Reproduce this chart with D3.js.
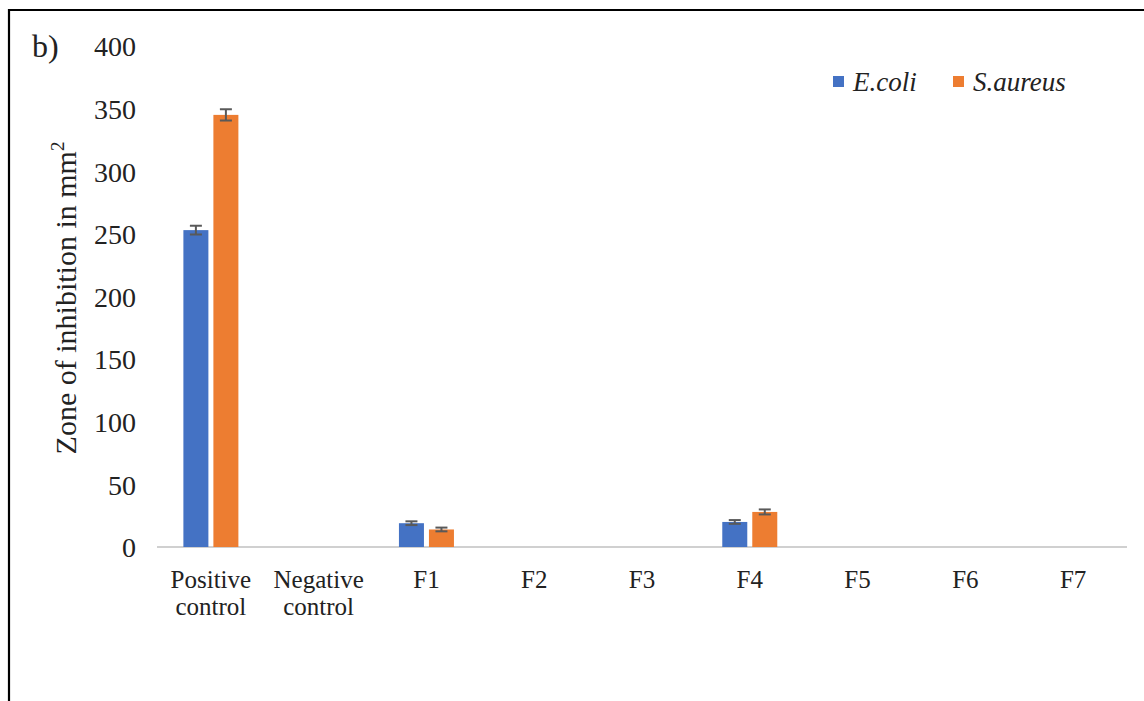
<!DOCTYPE html>
<html><head><meta charset="utf-8">
<script src="https://cdn.jsdelivr.net/npm/d3@7"></script>
<style>html,body{margin:0;padding:0;background:#fff;}svg{display:block;}</style>
</head><body>
<svg id="chart" width="1144" height="701"></svg>
<script>
const categories = [["Positive","control"],["Negative","control"],["F1"],["F2"],["F3"],["F4"],["F5"],["F6"],["F7"]];
const seriesNames = ["E.coli","S.aureus"];
const ecoli = [253, 0, 19, 0, 0, 20, 0, 0, 0];
const saureus = [345, 0, 14, 0, 0, 28, 0, 0, 0];
const ecoliErr = [3.5, 0, 1.5, 0, 0, 1.5, 0, 0, 0];
const saureusErr = [4.5, 0, 1.5, 0, 0, 2, 0, 0, 0];
const yTicks = [0, 50, 100, 150, 200, 250, 300, 350, 400];
const colors = ["#4472C4", "#ED7D31"];

const svg = d3.select("#chart");
const font = "'Liberation Serif','Times New Roman',serif";

// frame
svg.append("line").attr("x1",8).attr("x2",1144).attr("y1",10).attr("y2",10).attr("stroke","#000").attr("stroke-width",2.2);
svg.append("line").attr("x1",9).attr("x2",9).attr("y1",9).attr("y2",701).attr("stroke","#000").attr("stroke-width",2.2);

const x = d3.scaleBand().domain(d3.range(categories.length)).range([157, 1127]).paddingInner(0).paddingOuter(0);
const y = d3.scaleLinear().domain([0, 400]).range([547, 46]);
const bw = 25, gap = 5;

const series = [ecoli, saureus];
const errs = [ecoliErr, saureusErr];

// baseline
svg.append("line").attr("x1",157).attr("x2",1127).attr("y1",y(0)).attr("y2",y(0)).attr("stroke","#d0d0d0").attr("stroke-width",2);

series.forEach((vals, si) => {
  const off = si === 0 ? -(bw + gap/2) : gap/2;
  const g = svg.append("g");
  g.selectAll("rect").data(vals).join("rect")
    .attr("x", (d,i) => x(i) + x.bandwidth()/2 + off)
    .attr("y", d => y(d))
    .attr("width", bw)
    .attr("height", d => y(0) - y(d))
    .attr("fill", colors[si]);
  vals.forEach((v, i) => {
    const e = errs[si][i];
    if (v <= 0) return;
    const cx = x(i) + x.bandwidth()/2 + off + bw/2;
    g.append("line").attr("x1",cx).attr("x2",cx).attr("y1",y(v+e)).attr("y2",y(v-e)).attr("stroke","#595959").attr("stroke-width",2);
    [v+e, v-e].forEach(t => g.append("line").attr("x1",cx-6).attr("x2",cx+6).attr("y1",y(t)).attr("y2",y(t)).attr("stroke","#595959").attr("stroke-width",2));
  });
});

// y axis labels
const yAxis = d3.axisLeft(y).tickValues(yTicks).tickSize(0).tickPadding(0);
const ya = svg.append("g").attr("transform","translate(136,0)").call(yAxis);
ya.select(".domain").remove();
ya.selectAll("text").attr("font-family",font).attr("font-size",28).attr("fill","#222").attr("dy","0.35em");

// x labels
const xl = svg.append("g");
categories.forEach((lines, i) => {
  const t = xl.append("text").attr("x", x(i) + x.bandwidth()/2).attr("y", 588)
    .attr("text-anchor","middle").attr("font-family",font).attr("font-size",25).attr("fill","#222");
  lines.forEach((ln, k) => t.append("tspan").attr("x", x(i) + x.bandwidth()/2).attr("dy", k===0 ? 0 : 27).text(ln));
});

// y title
const yt = svg.append("text").attr("transform","translate(76,298) rotate(-90)").attr("text-anchor","middle")
  .attr("font-family",font).attr("font-size",30).attr("fill","#222");
yt.append("tspan").text("Zone of inhibition in mm");
yt.append("tspan").attr("font-size",19).attr("dy",-12).text("2");

// b)
svg.append("text").attr("x",32).attr("y",57).attr("font-family",font).attr("font-size",32).attr("fill","#222").text("b)");

// legend
const legX = [833, 953];
seriesNames.forEach((n, i) => {
  svg.append("rect").attr("x",legX[i]).attr("y",76).attr("width",11).attr("height",11).attr("fill",colors[i]);
  svg.append("text").attr("x",legX[i]+20).attr("y",91).attr("font-family",font).attr("font-style","italic")
    .attr("font-size",27).attr("fill","#222").text(n);
});
</script>
</body></html>
